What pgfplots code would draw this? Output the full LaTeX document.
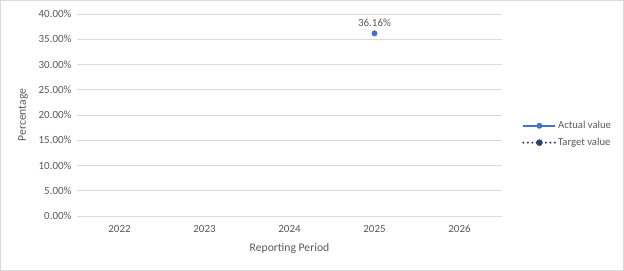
\documentclass[border=0pt]{standalone}
\usepackage{pgfplots}
\pgfplotsset{compat=1.18}
\usepackage{fontspec}
\setmainfont{Carlito}
\definecolor{txt}{HTML}{595959}
\definecolor{grid}{HTML}{D9D9D9}
\definecolor{actual}{HTML}{4472C4}
\definecolor{target}{HTML}{264478}
\begin{document}
\begin{tikzpicture}
\draw[color=grid, line width=0.8bp] (0.4bp,0.4bp) rectangle (623.6bp,270.6bp);
\begin{axis}[
  at={(77bp,55bp)}, anchor=south west,
  width=425bp, height=202bp, scale only axis,
  xmin=-0.5, xmax=4.5, ymin=0, ymax=40,
  xtick={0,1,2,3,4}, xticklabels={2022,2023,2024,2025,2026},
  ytick={0,5,...,40},
  yticklabel={\pgfmathprintnumber[fixed,fixed zerofill,precision=2]{\tick}\%},
  /pgf/number format/assume math mode=true,
  axis line style={draw=none},
  major tick length=0pt,
  ymajorgrids, grid style={color=grid, line width=0.8bp},
  tick label style={font=\fontsize{11}{12}\selectfont, color=txt},
  yticklabel style={xshift=-2bp},
  xticklabel style={yshift=-6bp},
  xlabel={Reporting Period}, ylabel={Percentage},
  label style={font=\fontsize{11.7}{13}\selectfont, color=txt},
  xlabel style={yshift=-4bp},
  ylabel style={yshift=4bp},
  clip=false,
  legend style={at={(1,0.405)}, anchor=west, xshift=20bp, draw=none, fill=none,
    inner sep=0pt, font=\fontsize{10.7}{12}\selectfont, text=txt, row sep=5bp,
    nodes={inner sep=1.5bp},
    cells={anchor=west}},
  legend cell align=left,
  legend image code/.code={
    \draw[#1, mark=none] (0bp,0bp) -- (32bp,0bp);
    \draw[#1, solid, only marks] plot coordinates {(16bp,0bp)};
  },
]
\addplot[color=actual, line width=2.4bp, mark=*, mark size=2.7bp,
  mark options={fill=actual, draw=actual, line width=0.5bp},
  nodes near coords={36.16\%},
  every node near coord/.style={font=\fontsize{11}{12}\selectfont, color=txt, yshift=3bp}]
  coordinates {(3,36.16)};
\addlegendentry{Actual value}
\addlegendimage{color=target, line width=2.4bp, line cap=round, dash pattern=on 0pt off 4.5bp, mark=*, mark size=3bp, mark options={solid, fill=target, line width=0.5bp}}
\addlegendentry{Target value}
\end{axis}
\end{tikzpicture}
\end{document}
